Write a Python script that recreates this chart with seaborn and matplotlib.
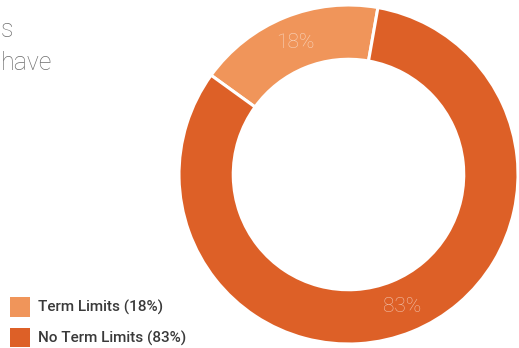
import matplotlib
matplotlib.use("Agg")
import matplotlib.pyplot as plt
import seaborn as sns

# Share of entries with and without term limits
categories = ["Term Limits", "No Term Limits"]
percents = [18, 83]
slice_colors = ["#F0955A", "#DD6027"]
title_lines = ["s", "have"]

sns.set_theme(style="white")
plt.rcParams["font.family"] = ["Roboto", "DejaVu Sans"]

W, H = 519, 348
fig = plt.figure(figsize=(W / 100, H / 100), dpi=100)
fig.patch.set_facecolor("white")

# Donut occupies a square box on the right side of the figure
box_left, box_top, box_size = 179, 5, 339
ax = fig.add_axes([box_left / W, (H - box_top - box_size) / H, box_size / W, box_size / H])

wedges, _, autotexts = ax.pie(
    percents,
    colors=slice_colors,
    startangle=80,
    counterclock=True,
    radius=1.0,
    wedgeprops=dict(width=0.32, edgecolor="white", linewidth=2.2),
    autopct=lambda p: f"{round(p * sum(percents) / 100)}%",
    pctdistance=0.84,
    textprops=dict(color="white", alpha=0.6, fontsize=15, fontweight="light"),
)
ax.set_xlim(-1, 1)
ax.set_ylim(-1, 1)
ax.set_aspect("equal")
ax.axis("off")

# Legend in the lower-left corner
labels = [f"{c} ({p}%)" for c, p in zip(categories, percents)]
leg = fig.legend(
    wedges, labels,
    loc="lower left",
    bbox_to_anchor=(10 / W, 1 / H),
    frameon=False,
    prop=dict(family=["Roboto", "DejaVu Sans"], size=11, weight="medium"),
    handlelength=1.31,
    handleheight=1.54,
    handletextpad=0.5,
    labelspacing=0.75,
    borderpad=0,
    borderaxespad=0,
)
for t in leg.get_texts():
    t.set_color("#3a3a3a")
for h in leg.legend_handles:
    h.set_edgecolor("none")
    h.set_linewidth(0)

# Heading text at the top-left edge
fig.text(0.5 / W, 1 - 37 / H, title_lines[0], ha="left", va="baseline",
         fontsize=18, fontweight="light", color="#6e6e6e")
fig.text(0.5 / W, 1 - 70 / H, title_lines[1], ha="left", va="baseline",
         fontsize=18, fontweight="light", color="#6e6e6e")

fig.savefig("out.png", dpi=100, facecolor="white")
